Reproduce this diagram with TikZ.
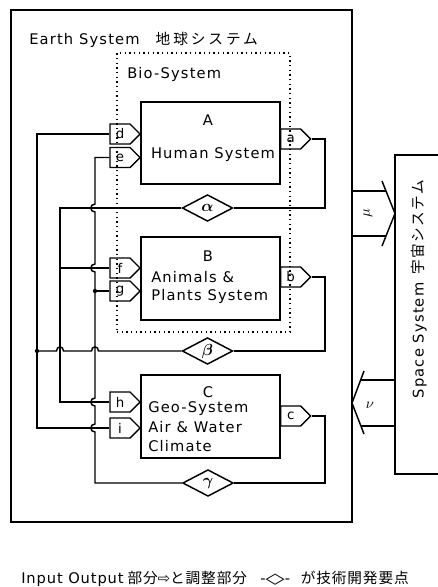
\documentclass[tikz,border=0pt]{standalone}
\usepackage{fontspec}
\setmainfont{DejaVu Sans}
\newfontfamily\jp{Noto Sans CJK JP}
\newfontfamily\sym{DejaVu Sans}
\usetikzlibrary{shapes.geometric,shapes.symbols,fit}
\begin{document}
\begin{tikzpicture}[x=0.75pt,y=-0.75pt,
  line/.style={line width=1.1pt},
  frame/.style={draw,line width=1.1pt,inner sep=0pt},
  dotbox/.style={draw,line width=1pt,inner sep=0pt,dash pattern=on 1.1pt off 2.4pt},
  txt/.style={inner sep=0pt,font=\fontsize{11}{13}\selectfont\addfontfeature{LetterSpace=8}},
  inport/.style={draw,line width=1pt,shape=signal,signal to=east,minimum width=22.5pt,minimum height=15pt,inner sep=0pt,font=\fontsize{10}{12}\selectfont},
  outport/.style={inport},
  gate/.style={draw,line width=1.1pt,shape=diamond,aspect=1.9,minimum width=38pt,minimum height=20pt,inner sep=0pt,font=\boldmath\large},
  jdot/.style={circle,fill,inner sep=0pt,minimum size=3.2pt}
]
\useasboundingbox (0,0) rectangle (438,587);
% containers
\node[frame,fit={(11,10) (352,522)}] (earth) {};
\node[dotbox,fit={(117,53) (290,332)}] (bio) {};
\node[txt,anchor=west] (earthlbl) at (29,40) {Earth System\hspace{12pt}{\jp\addfontfeature{LetterSpace=20}地球システム}};
\node[txt,anchor=west] (biolbl) at (127,74) {Bio-System};
% subsystem boxes
\node[frame,fit={(141,102) (280,184)}] (A) {};
\node[frame,fit={(141,237) (280,320)}] (B) {};
\node[frame,fit={(141,375) (280,458)}] (C) {};
\node[txt] (tA1) at (208,120) {A};
\node[txt] (tA2) at (213,155) {Human System};
\node[txt] (tB1) at (208,256) {B};
\node[txt,anchor=west] (tB2) at (151,277) {Animals \&};
\node[txt,anchor=west] (tB3) at (151,296) {Plants System};
\node[txt] (tC1) at (208,392) {C};
\node[txt,anchor=west] (tC2) at (148,409) {Geo-System};
\node[txt,anchor=west] (tC3) at (148,427) {Air \& Water};
\node[txt,anchor=west] (tC4) at (148,446) {Climate};
% input ports
\node[inport,anchor=east] (pd) at (141,134) {d};
\node[inport,anchor=east] (pe) at (141,157.5) {e};
\node[inport,anchor=east] (pf) at (141,268) {f};
\node[inport,anchor=east] (pg) at (141,291) {g};
\node[inport,anchor=east] (ph) at (141,402) {h};
\node[inport,anchor=east] (pi) at (141,428) {i};
% output ports
\node[outport,anchor=west] (pa) at (280,139) {a};
\node[outport,anchor=west] (pb) at (280,277) {b};
\node[outport,anchor=west] (pc) at (280,416) {c};
% regulators
\node[gate] (alpha) at (207.5,208) {$\alpha$};
\node[gate] (beta) at (207.5,351) {$\beta$};
\node[gate] (gamma) at (208,483) {$\gamma$};
% output loops
\draw[line] (pa.east) -- (325,139) -- (325,208) -- (alpha.east);
\draw[line] (pb.east) -- (325,277) -- (325,351) -- (beta.east);
\draw[line] (pc.east) -- (325,416) -- (325,483) -- (gamma.east);
% alpha distribution (x=60)
\draw[line] (alpha.west) -- (60,208) -- (60,402) -- (ph.west);
\draw[line] (60,268) -- (pf.west);
% beta distribution (x=37)
\draw[line] (beta.west) -- (98.5,351) .. controls (98.5,345.5) and (91.5,345.5) .. (91.5,351)
  -- (63.5,351) .. controls (63.5,345.5) and (56.5,345.5) .. (56.5,351) -- (37,351);
\draw[line] (pd.west) -- (37,134) -- (37,428) -- (pi.west);
\node[jdot] (j1) at (37,351) {};
% gamma distribution (x=95)
\draw[line] (pe.west) -- (95,157.5) -- (95,204) .. controls (89.5,204) and (89.5,212) .. (95,212)
  -- (95,264) .. controls (89.5,264) and (89.5,272) .. (95,272)
  -- (95,398) .. controls (89.5,398) and (89.5,406) .. (95,406)
  -- (95,424) .. controls (89.5,424) and (89.5,432) .. (95,432)
  -- (95,483) -- (gamma.west);
\draw[line] (95,291) -- (pg.west);
\node[jdot] (j2) at (95,291) {};
% space system
\node[frame,fit={(395,155) (441,474)}] (space) {};
\node[txt,rotate=90] (spacelbl) at (419,289) {Space System\hspace{6pt}{\jp\addfontfeature{LetterSpace=10}宇宙システム}};
% mu link (earth -> space)
\draw[line] (352,191) -- (386,191);
\draw[line] (352,236) -- (386,236);
\draw[line] (382,181) -- (395,213.5) -- (382,246);
\node[txt,rotate=90] (mu) at (368,213) {$\mu$};
% nu link (space -> earth)
\draw[line] (360.5,380) -- (395,380);
\draw[line] (360.5,426) -- (395,426);
\draw[line] (364,371) -- (352,403) -- (364,434);
\node[txt] (nu) at (370,405) {$\nu$};
% footer
\node[inner sep=0pt,font=\fontsize{11}{13}\selectfont\addfontfeature{LetterSpace=6}] (foot) at (215,579)
  {Input Output\hspace{3pt}{\jp\addfontfeature{LetterSpace=6}部分}{\sym ⇨}{\jp\addfontfeature{LetterSpace=6}と調整部分}\hspace{10pt}-\scalebox{1.7}[1]{\sym ◇}-\hspace{8pt}{\jp\addfontfeature{LetterSpace=6}が技術開発要点}};
\end{tikzpicture}
\end{document}
